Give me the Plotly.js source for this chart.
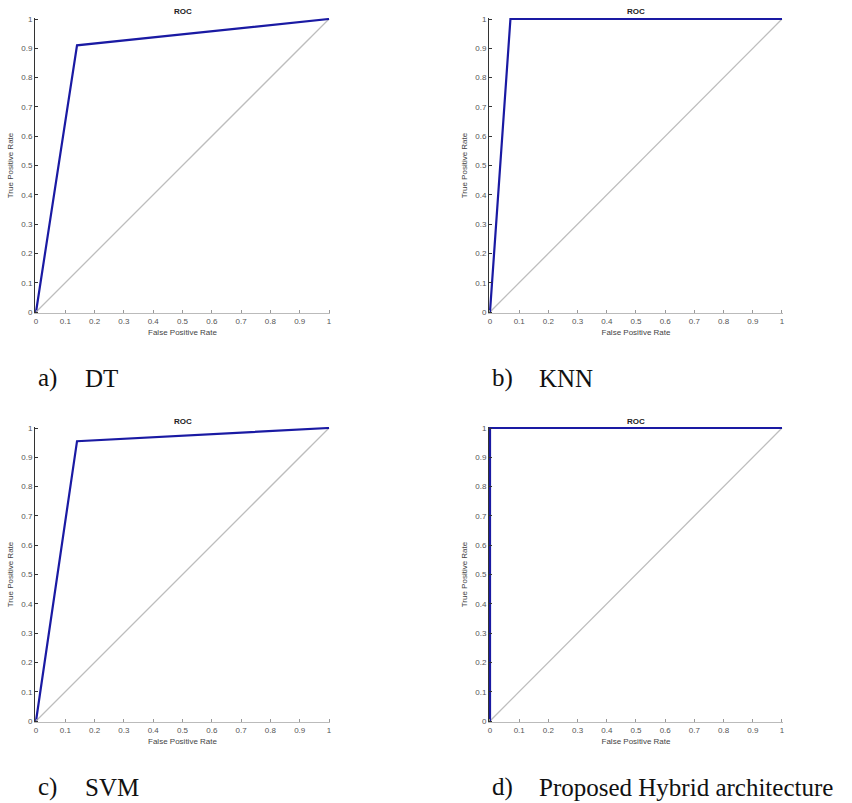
<!DOCTYPE html>
<html>
<head>
<meta charset="utf-8">
<script src="https://cdn.plot.ly/plotly-3.0.1.min.js"></script>
<style>
html,body{margin:0;padding:0;background:#fff;}
#chart{width:852px;height:803px;}
</style>
</head>
<body>
<div id="chart"></div>
<script>
// ROC curve points (False Positive Rate, True Positive Rate)
const dtFPR = [0, 0.14, 1];
const dtTPR = [0, 0.91, 1];
const knnFPR = [0, 0.07, 1];
const knnTPR = [0, 1, 1];
const svmFPR = [0, 0.14, 1];
const svmTPR = [0, 0.955, 1];
const hybFPR = [0, 0, 1];
const hybTPR = [0, 1, 1];
const diagX = [0, 1];
const diagY = [0, 1];
const capLabels = ["a)", "b)", "c)", "d)"];
const capNames = ["DT", "KNN", "SVM", "Proposed Hybrid architecture"];
const tickVals = [0, 0.1, 0.2, 0.3, 0.4, 0.5, 0.6, 0.7, 0.8, 0.9, 1];
const tickText = ["0", "0.1", "0.2", "0.3", "0.4", "0.5", "0.6", "0.7", "0.8", "0.9", "1"];

const W = 852, H = 803;
const px = v => v / W;
const py = v => 1 - v / H;
const PAD = 0.0035;   // small range padding so lines on the edges are not clipped

const panels = [
  {fpr: dtFPR, tpr: dtTPR, x0: 36, x1: 329, y0: 19, y1: 312, capX: 36, capY: 378},
  {fpr: knnFPR, tpr: knnTPR, x0: 490, x1: 782, y0: 19, y1: 312, capX: 490, capY: 378},
  {fpr: svmFPR, tpr: svmTPR, x0: 36, x1: 329, y0: 428, y1: 721, capX: 36, capY: 787},
  {fpr: hybFPR, tpr: hybTPR, x0: 490, x1: 782, y0: 428, y1: 721, capX: 490, capY: 787}
];

const data = [];
const layout = {
  width: W, height: H,
  margin: {l: 0, r: 0, t: 0, b: 0},
  paper_bgcolor: '#fff', plot_bgcolor: '#fff',
  showlegend: false,
  font: {family: 'Liberation Sans, Arial, sans-serif', size: 8, color: '#555'},
  annotations: []
};

const capFont = {family: 'Liberation Serif, Times New Roman, serif', size: 25, color: '#111'};

panels.forEach((p, i) => {
  const n = i + 1;
  const xa = n === 1 ? 'x' : 'x' + n;
  const ya = n === 1 ? 'y' : 'y' + n;
  data.push({x: diagX, y: diagY, xaxis: xa, yaxis: ya, mode: 'lines', type: 'scatter',
    line: {color: '#bdbdbd', width: 1.3}, cliponaxis: false, hoverinfo: 'skip'});
  data.push({x: p.fpr, y: p.tpr, xaxis: xa, yaxis: ya, mode: 'lines', type: 'scatter',
    line: {color: '#1a1aa3', width: 2.2}, cliponaxis: false});
  const xk = n === 1 ? 'xaxis' : 'xaxis' + n;
  const yk = n === 1 ? 'yaxis' : 'yaxis' + n;
  const wx = p.x1 - p.x0, wy = p.y1 - p.y0;
  const ex = wx * PAD, ey = wy * PAD;
  layout[xk] = {
    domain: [px(p.x0 - ex), px(p.x1 + ex)], anchor: ya, range: [-PAD, 1 + PAD],
    showgrid: false, zeroline: false, showline: true, linecolor: '#bbbbbb', linewidth: 1,
    ticks: 'inside', ticklen: 3, tickcolor: '#999', tickvals: tickVals, ticktext: tickText,
    tickfont: {size: 8, color: '#555'},
    title: {text: 'False Positive Rate', font: {size: 8, color: '#444'}, standoff: 4}
  };
  layout[yk] = {
    domain: [py(p.y1 + ey), py(p.y0 - ey)], anchor: xa, range: [-PAD, 1 + PAD],
    showgrid: false, zeroline: false, showline: true, linecolor: '#333333', linewidth: 1,
    ticks: 'inside', ticklen: 3, tickcolor: '#333', tickvals: tickVals, ticktext: tickText,
    tickfont: {size: 8, color: '#555'},
    title: {text: 'True Positive Rate', font: {size: 8, color: '#444'}, standoff: 6}
  };
  layout.annotations.push({
    text: '<b>ROC</b>', xref: 'paper', yref: 'paper',
    x: px((p.x0 + p.x1) / 2), y: py(p.y0 - 7), xanchor: 'center', yanchor: 'middle',
    showarrow: false, font: {size: 8, color: '#222'}
  });
  layout.annotations.push({
    text: capLabels[i], xref: 'paper', yref: 'paper',
    x: px(p.capX), y: py(p.capY), xanchor: 'left', yanchor: 'middle',
    showarrow: false, font: capFont
  });
  layout.annotations.push({
    text: capNames[i], xref: 'paper', yref: 'paper',
    x: px(p.capX + 47), y: py(p.capY), xanchor: 'left', yanchor: 'middle',
    showarrow: false, font: capFont
  });
});

Plotly.newPlot('chart', data, layout, {displayModeBar: false, staticPlot: true});
</script>
</body>
</html>
